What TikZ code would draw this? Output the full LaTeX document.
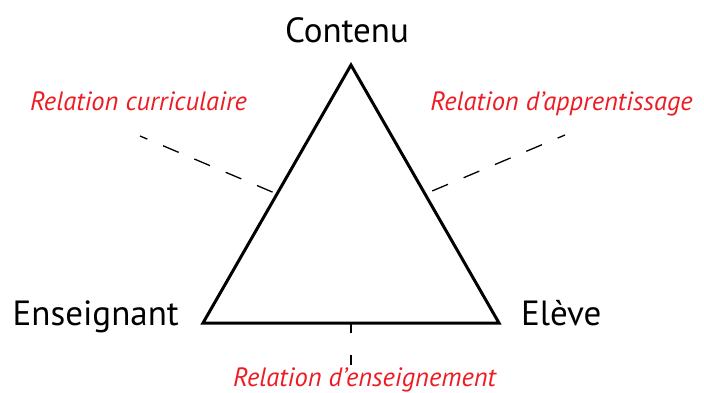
\documentclass[tikz,border=0pt]{standalone}
\usepackage{fontspec}
\setmainfont{PT Sans}
\usetikzlibrary{calc}
\definecolor{rouge}{RGB}{237,28,36}
\tikzset{
  sommet/.style={inner sep=0pt,font=\fontsize{35}{35}\selectfont},
  relation/.style={inner sep=0pt,text=rouge,font=\fontsize{26.5}{26.5}\selectfont\itshape},
  lien/.style={line width=1.3pt,dash pattern=on 17pt off 17pt,dash phase=9pt}
}
\begin{document}
\begin{tikzpicture}[x=1pt,y=-1pt]
\useasboundingbox (0,0) rectangle (704,392);
% le triangle
\coordinate (C) at (351,65);
\coordinate (E) at (203,323);
\coordinate (L) at (499,323);
\draw[line width=3pt,line join=miter](C)--(L)--(E)--cycle;
% les sommets
\node[sommet,anchor=base](contenu) at (347,42){Contenu};
\node[sommet,anchor=base east](enseignant) at (179,325){Enseignant};
\node[sommet,anchor=base west](eleve) at (521,325){Elève};
% les relations
\node[relation,anchor=base](curr) at (138.5,110){Relation curriculaire};
\node[relation,anchor=base](appr) at (561.5,110){Relation d’apprentissage};
\node[relation,anchor=base](ens) at (364.5,386){Relation d’enseignement};
\coordinate (a) at (140,136);
\coordinate (b) at (565,135);
\coordinate (c) at (351,365);
\draw[lien](a)--($(E)!0.5!(C)$);
\draw[lien](b)--($(L)!0.5!(C)$);
\draw[lien,dash pattern=on 10pt off 22pt,dash phase=0pt](c)--($(E)!0.5!(L)$);
\end{tikzpicture}
\end{document}
